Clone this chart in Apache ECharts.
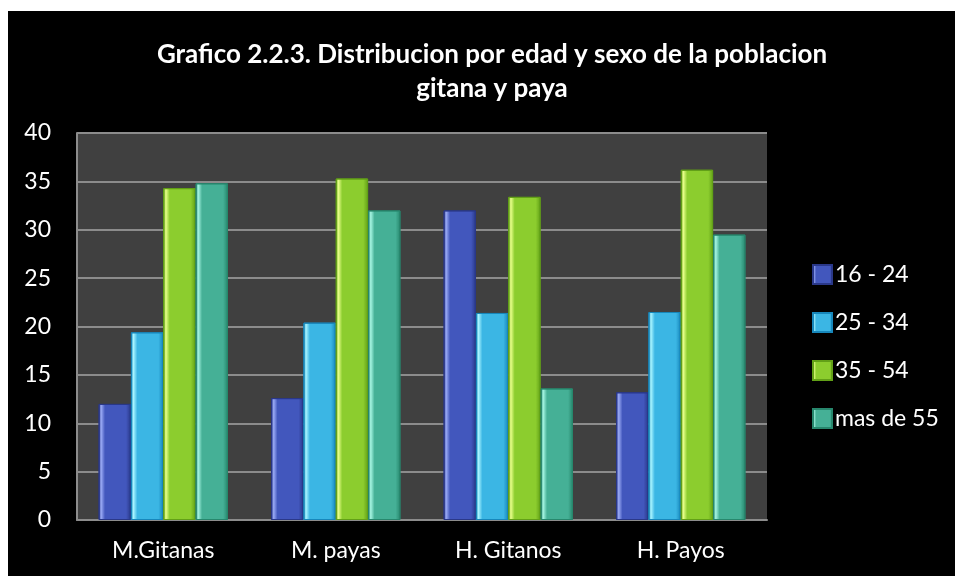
<!DOCTYPE html>
<html>
<head>
<meta charset="utf-8">
<script src="https://cdn.jsdelivr.net/npm/echarts@6/dist/echarts.min.js"></script>
<style>
  html, body { margin: 0; padding: 0; background: #fff; }
  #chart { position: absolute; left: 8px; top: 11px; width: 947px; height: 565px; }
</style>
</head>
<body>
<div id="chart"></div>
<script>
// categorias y series
const categories = ['M.Gitanas', 'M. payas', 'H. Gitanos', 'H. Payos']
const ages = ['16 - 24', '25 - 34', '35 - 54', 'mas de 55']
const v16_24 = [12.0, 12.6, 32.0, 13.2]
const v25_34 = [19.4, 20.4, 21.4, 21.5]
const v35_54 = [34.3, 35.3, 33.4, 36.2]
const v55 = [34.8, 32.0, 13.6, 29.5]
const yTicks = [0, 40, 5]

// colores [oscuro, claro, base]
const palette = [
  ['#2a3889', '#9aaaf5', '#4257bd'],
  ['#1787bb', '#a8f4ff', '#3bb6e4'],
  ['#62a017', '#e8ff8a', '#8ccd2e'],
  ['#27876d', '#a6f5e2', '#45b096']
]

const bevel = (c) => ({
  type: 'linear', x: 0, y: 0, x2: 1, y2: 0,
  colorStops: [
    { offset: 0, color: c[0] },
    { offset: 0.08, color: c[1] },
    { offset: 0.2, color: c[2] },
    { offset: 0.85, color: c[2] },
    { offset: 1, color: c[0] }
  ]
})

const font = 'Lato, "Open Sans", sans-serif'
const chart = echarts.init(document.getElementById('chart'))

const seriesData = [v16_24, v25_34, v35_54, v55]

chart.setOption({
  backgroundColor: '#000',
  title: {
    text: 'Grafico 2.2.3. Distribucion por edad y sexo de la poblacion\ngitana y paya',
    left: 479,
    textAlign: 'center',
    top: 22,
    textStyle: {
      color: '#fff',
      fontFamily: font,
      fontWeight: 'bold',
      fontSize: 26,
      lineHeight: 34
    }
  },
  legend: {
    orient: 'vertical',
    left: 799,
    top: 247,
    itemWidth: 19,
    itemHeight: 19,
    itemGap: 25,
    icon: 'rect',
    data: ages,
    textStyle: { color: '#fff', fontFamily: font, fontSize: 23, lineHeight: 21, padding: [0, 0, 0, -2] }
  },
  grid: {
    left: 69,
    top: 122,
    right: 188,
    bottom: 56,
    show: true,
    backgroundColor: '#404040',
    borderWidth: 0
  },
  xAxis: {
    type: 'category',
    data: categories,
    axisLine: { lineStyle: { color: '#8c8c8c', width: 2 } },
    axisTick: { show: false },
    axisLabel: { color: '#fff', fontFamily: font, fontSize: 23, margin: 19 }
  },
  yAxis: {
    type: 'value',
    min: yTicks[0],
    max: yTicks[1],
    interval: yTicks[2],
    axisLine: { show: true, lineStyle: { color: '#8c8c8c', width: 2 } },
    axisTick: { show: false },
    splitLine: { lineStyle: { color: '#8c8c8c', width: 2 } },
    axisLabel: { color: '#fff', fontFamily: font, fontSize: 23, margin: 26 }
  },
  series: ages.map((name, i) => ({
    name: name,
    type: 'bar',
    data: seriesData[i],
    barGap: '0%',
    barCategoryGap: '25%',
    itemStyle: {
      color: bevel(palette[i]),
      borderColor: palette[i][0],
      borderWidth: 1
    }
  }))
})
</script>
</body>
</html>
